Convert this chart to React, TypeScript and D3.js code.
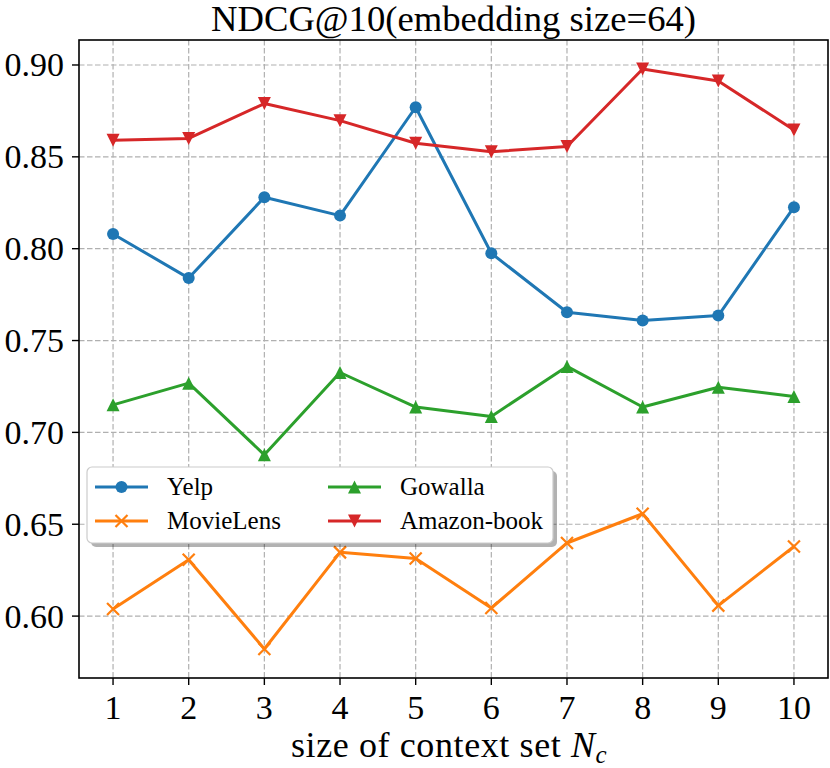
import React from "react";
import * as d3 from "d3";

const xValues = [1, 2, 3, 4, 5, 6, 7, 8, 9, 10];
const yelp = [0.808, 0.784, 0.828, 0.818, 0.877, 0.7975, 0.7654, 0.7609, 0.7636, 0.8226];
const movieLens = [0.6039, 0.6307, 0.5821, 0.6347, 0.6314, 0.6044, 0.6398, 0.6557, 0.6057, 0.6379];
const gowalla = [0.715, 0.7268, 0.6878, 0.7326, 0.7138, 0.7087, 0.7359, 0.7138, 0.7246, 0.7195];
const amazonBook = [0.859, 0.86, 0.879, 0.8697, 0.8574, 0.8528, 0.8556, 0.8978, 0.8913, 0.8646];
const yTicks = [0.6, 0.65, 0.7, 0.75, 0.8, 0.85, 0.9];
const seriesNames = ["Yelp", "MovieLens", "Gowalla", "Amazon-book"];
const seriesColors = ["#1f77b4", "#ff7f0e", "#2ca02c", "#d62728"];
const seriesMarkers = ["circle", "x", "triUp", "triDown"];

const W = 830;
const H = 768;
const left = 79, right = 828, top = 40, bottom = 678;
const FONT = "Liberation Serif, DejaVu Serif, serif";

function Marker({ type, cx, cy, color }: { type: string; cx: number; cy: number; color: string }) {
  const ms = 12;
  if (type === "circle") return <circle cx={cx} cy={cy} r={ms / 2} fill={color} />;
  if (type === "x") {
    const h = ms / 2;
    return (
      <path
        d={`M${cx - h},${cy - h}L${cx + h},${cy + h}M${cx - h},${cy + h}L${cx + h},${cy - h}`}
        stroke={color}
        strokeWidth={2.2}
        fill="none"
      />
    );
  }
  const s = 13 / 2;
  if (type === "triUp")
    return <path d={`M${cx},${cy - s}L${cx - s},${cy + s}L${cx + s},${cy + s}Z`} fill={color} />;
  return <path d={`M${cx},${cy + s}L${cx - s},${cy - s}L${cx + s},${cy - s}Z`} fill={color} />;
}

export default function App() {
  const x = d3.scaleLinear().domain([0.55, 10.45]).range([left, right]);
  const y = d3.scaleLinear().domain([0.5663, 0.9136]).range([bottom, top]);
  const allSeries = [yelp, movieLens, gowalla, amazonBook];
  const line = d3
    .line<number>()
    .x((_, i) => x(xValues[i]))
    .y((d) => y(d));

  const lg = { x0: 87, y0: 467, x1: 553, y1: 543 };
  const legendItems = [
    { idx: 0, hx: 95, tx: 167, cy: 487 },
    { idx: 1, hx: 95, tx: 167, cy: 521 },
    { idx: 2, hx: 328, tx: 400, cy: 487 },
    { idx: 3, hx: 328, tx: 400, cy: 521 },
  ];

  return (
    <svg
      width={W}
      height={H}
      viewBox={`0 0 ${W} ${H}`}
      style={{ position: "absolute", left: 0, top: 0, background: "#fff", fontFamily: FONT }}
    >
      <rect x={0} y={0} width={W} height={H} fill="#fff" />
      <g stroke="#b0b0b0" strokeWidth={1.2} strokeDasharray="5.5,2.5">
        {xValues.map((v) => (
          <line key={"gx" + v} x1={x(v)} x2={x(v)} y1={top} y2={bottom} />
        ))}
        {yTicks.map((v) => (
          <line key={"gy" + v} x1={left} x2={right} y1={y(v)} y2={y(v)} />
        ))}
      </g>
      {allSeries.map((s, si) => (
        <g key={"s" + si}>
          <path d={line(s) || ""} fill="none" stroke={seriesColors[si]} strokeWidth={3} strokeLinejoin="round" />
          {s.map((v, i) => (
            <Marker key={i} type={seriesMarkers[si]} cx={x(xValues[i])} cy={y(v)} color={seriesColors[si]} />
          ))}
        </g>
      ))}
      <rect x={left} y={top} width={right - left} height={bottom - top} fill="none" stroke="#000" strokeWidth={1.6} />
      <g stroke="#000" strokeWidth={1.4}>
        {xValues.map((v) => (
          <line key={"tx" + v} x1={x(v)} x2={x(v)} y1={bottom} y2={bottom + 7} />
        ))}
        {yTicks.map((v) => (
          <line key={"ty" + v} x1={left - 7} x2={left} y1={y(v)} y2={y(v)} />
        ))}
      </g>
      <g style={{ fontFamily: FONT }} fontSize={34} fill="#000">
        {xValues.map((v) => (
          <text key={"lx" + v} x={x(v)} y={719} textAnchor="middle">
            {v}
          </text>
        ))}
        {yTicks.map((v) => (
          <text key={"ly" + v} x={64} y={y(v) + 11.5} textAnchor="end">
            {v.toFixed(2)}
          </text>
        ))}
      </g>
      <text
        x={(left + right) / 2}
        y={31}
        textAnchor="middle"
        style={{ fontFamily: FONT }}
        fontSize={35}
        textLength={485}
        lengthAdjust="spacingAndGlyphs"
      >
        NDCG@10(embedding size=64)
      </text>
      <text x={291} y={757} style={{ fontFamily: FONT }} fontSize={36} letterSpacing={0.6}>
        size of context set <tspan fontStyle="italic">N</tspan>
        <tspan fontStyle="italic" fontSize={25} dy={6}>
          c
        </tspan>
      </text>
      <rect x={lg.x0 + 4} y={lg.y0 + 4} width={lg.x1 - lg.x0} height={lg.y1 - lg.y0} rx={5} fill="#000" opacity={0.3} />
      <rect
        x={lg.x0}
        y={lg.y0}
        width={lg.x1 - lg.x0}
        height={lg.y1 - lg.y0}
        rx={5}
        fill="#fff"
        stroke="#cccccc"
        strokeWidth={1.2}
      />
      {legendItems.map((it) => (
        <g key={"lg" + it.idx}>
          <line x1={it.hx} x2={it.hx + 53} y1={it.cy} y2={it.cy} stroke={seriesColors[it.idx]} strokeWidth={3} />
          <Marker type={seriesMarkers[it.idx]} cx={it.hx + 26.5} cy={it.cy} color={seriesColors[it.idx]} />
          <text x={it.tx} y={it.cy + 8} style={{ fontFamily: FONT }} fontSize={25}>
            {seriesNames[it.idx]}
          </text>
        </g>
      ))}
    </svg>
  );
}
